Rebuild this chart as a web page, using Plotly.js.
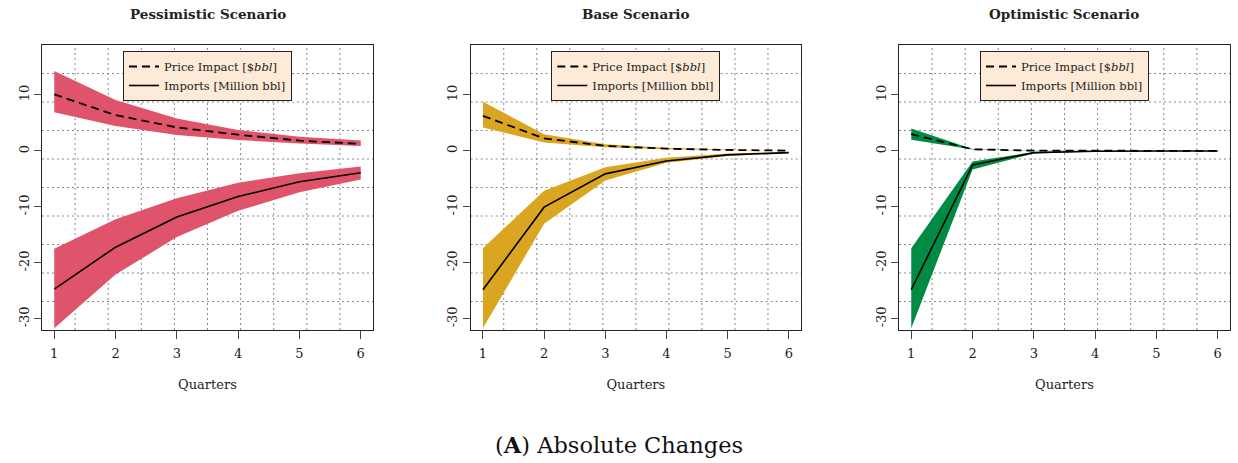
<!DOCTYPE html>
<html>
<head>
<meta charset="utf-8">
<script src="https://cdn.plot.ly/plotly-3.0.1.min.js"></script>
<style>html,body{margin:0;padding:0;background:#fff;}#chart{width:1238px;height:463px;}</style>
</head>
<body>
<div id="chart"></div>
<script>
// ---------- data ----------
const quarters = [1, 2, 3, 4, 5, 6];
const scenarioNames = ["Pessimistic Scenario", "Base Scenario", "Optimistic Scenario"];
const bandColors = ["#DF536B", "#DAA520", "#008B45"];

const pessPriceMid = [10.1, 6.4, 4.2, 2.9, 1.85, 1.25];
const pessPriceUp  = [14.3, 9.1, 5.8, 3.75, 2.55, 1.85];
const pessPriceLo  = [6.9, 4.45, 2.85, 1.95, 1.35, 0.9];
const pessImpMid   = [-24.7, -17.2, -11.8, -8.15, -5.5, -3.9];
const pessImpUp    = [-17.5, -12.2, -8.45, -5.7, -4.0, -2.8];
const pessImpLo    = [-31.7, -22.1, -15.4, -10.7, -7.4, -5.1];

const basePriceMid = [6.25, 2.25, 0.9, 0.4, 0.18, 0.05];
const basePriceUp  = [8.8, 3.0, 1.2, 0.55, 0.25, 0.1];
const basePriceLo  = [4.2, 1.5, 0.65, 0.3, 0.12, 0.02];
const baseImpMid   = [-24.8, -10.05, -4.1, -1.8, -0.7, -0.3];
const baseImpUp    = [-17.4, -7.1, -2.9, -1.2, -0.45, -0.2];
const baseImpLo    = [-31.7, -13.0, -5.3, -2.1, -0.9, -0.4];

const optPriceMid  = [3.0, 0.3, 0.05, 0.02, 0.01, 0.01];
const optPriceUp   = [4.0, 0.35, 0.06, 0.03, 0.02, 0.02];
const optPriceLo   = [2.0, 0.25, 0.04, 0.01, 0.0, 0.0];
const optImpMid    = [-24.8, -2.5, -0.3, -0.05, -0.02, 0.0];
const optImpUp     = [-17.4, -1.9, -0.2, -0.02, 0.0, 0.0];
const optImpLo     = [-31.7, -3.3, -0.45, -0.08, -0.03, -0.01];

const yTickVals = [-30, -20, -10, 0, 10];
const yTickText = ["-30", "-20", "-10", "0", "10"];
const priceLabel = "Price Impact [$<i>bbl</i>]";
const importsLabel = "Imports [Million bbl]";
const xTitle = "Quarters";
const caption = "(<b>A</b>) Absolute Changes";

const panels = [
  {pm: pessPriceMid, pu: pessPriceUp, pl: pessPriceLo, im: pessImpMid, iu: pessImpUp, il: pessImpLo},
  {pm: basePriceMid, pu: basePriceUp, pl: basePriceLo, im: baseImpMid, iu: baseImpUp, il: baseImpLo},
  {pm: optPriceMid,  pu: optPriceUp,  pl: optPriceLo,  im: optImpMid,  iu: optImpUp,  il: optImpLo}
];

// ---------- layout helpers ----------
const W = 1238, H = 463;
const FONT = "DejaVu Serif";
const xDomPx = [[42, 373], [470.7, 801], [899, 1230]];
const yDom = [1 - 330 / H, 1 - 45 / H];
const xRange = [0.8, 6.2];
const yRange = [-32, 18.93];

const traces = [];
const layout = {
  width: W, height: H,
  margin: {l: 0, r: 0, t: 0, b: 0},
  paper_bgcolor: "#fff", plot_bgcolor: "#fff",
  font: {family: FONT, color: "#222"},
  showlegend: true,
  shapes: [], annotations: []
};

const rev = a => a.slice().reverse();
const serif = s => '<span style="font-family:DejaVu Serif">' + s + '</span>';

panels.forEach((p, i) => {
  const n = i + 1;
  const xa = "x" + (n === 1 ? "" : n), ya = "y" + (n === 1 ? "" : n);
  const xk = "xaxis" + (n === 1 ? "" : n), yk = "yaxis" + (n === 1 ? "" : n);
  const lg = "legend" + (n === 1 ? "" : n);
  const bandX = quarters.concat(rev(quarters));

  traces.push({x: bandX, y: p.pu.concat(rev(p.pl)), xaxis: xa, yaxis: ya, type: "scatter", mode: "lines",
    fill: "toself", fillcolor: bandColors[i], line: {width: 0, color: bandColors[i]}, showlegend: false, hoverinfo: "skip"});
  traces.push({x: bandX, y: p.iu.concat(rev(p.il)), xaxis: xa, yaxis: ya, type: "scatter", mode: "lines",
    fill: "toself", fillcolor: bandColors[i], line: {width: 0, color: bandColors[i]}, showlegend: false, hoverinfo: "skip"});
  traces.push({x: quarters, y: p.pm, xaxis: xa, yaxis: ya, type: "scatter", mode: "lines", name: serif(priceLabel),
    legend: lg, line: {color: "#000", width: 1.8, dash: "8px,5px"}});
  traces.push({x: quarters, y: p.im, xaxis: xa, yaxis: ya, type: "scatter", mode: "lines", name: serif(importsLabel),
    legend: lg, line: {color: "#000", width: 1.6}});

  const d = [xDomPx[i][0] / W, xDomPx[i][1] / W];
  layout[xk] = {
    domain: d, range: xRange, anchor: ya, tickvals: quarters, ticktext: quarters.map(String),
    ticks: "outside", ticklen: 8, tickcolor: "#444", tickwidth: 1, ticklabelstandoff: 3,
    showgrid: false, zeroline: false, showline: true, mirror: true, linecolor: "#222", linewidth: 1.2,
    tickfont: {family: FONT, size: 13, color: "#222"},
    title: {text: xTitle, font: {family: FONT, size: 13, color: "#222"}, standoff: 20}
  };
  layout[yk] = {
    domain: yDom, range: yRange, anchor: xa, tickvals: yTickVals, ticktext: yTickText,
    ticks: "outside", ticklen: 7, tickcolor: "#444", tickwidth: 1, tickangle: -90,
    showgrid: false, zeroline: false, showline: true, mirror: true, linecolor: "#222", linewidth: 1.2,
    tickfont: {family: FONT, size: 13, color: "#222"}
  };
  // R-style grid(10, 10): equally spaced dotted lines across the plot region
  for (let k = 1; k < 10; k++) {
    layout.shapes.push({type: "line", xref: xa + " domain", yref: ya + " domain", x0: k / 10, x1: k / 10, y0: 0, y1: 1,
      line: {color: "#8a8a8a", width: 1, dash: "2px,3px"}, layer: "below"});
    layout.shapes.push({type: "line", xref: xa + " domain", yref: ya + " domain", x0: 0, x1: 1, y0: k / 10, y1: k / 10,
      line: {color: "#8a8a8a", width: 1, dash: "2px,3px"}, layer: "below"});
  }
  layout[lg] = {
    x: (d[0] + d[1]) / 2, xanchor: "center", y: 1 - 51 / H, yanchor: "top",
    bgcolor: "#FDEBD7", bordercolor: "#222", borderwidth: 1,
    font: {family: FONT, size: 11.5, color: "#222"}, tracegroupgap: 0
  };
  layout.annotations.push({text: "<b>" + scenarioNames[i] + "</b>", xref: "paper", yref: "paper",
    x: (d[0] + d[1]) / 2, y: 1 - 14 / H, xanchor: "center", yanchor: "middle", showarrow: false,
    font: {family: FONT, size: 13.5, color: "#222"}});
});

layout.annotations.push({text: caption, xref: "paper", yref: "paper", x: 0.5, y: 1 - 445 / H,
  xanchor: "center", yanchor: "middle", showarrow: false, font: {family: FONT, size: 22.5, color: "#111"}});

Plotly.newPlot("chart", traces, layout, {displayModeBar: false, staticPlot: true});
</script>
</body>
</html>
